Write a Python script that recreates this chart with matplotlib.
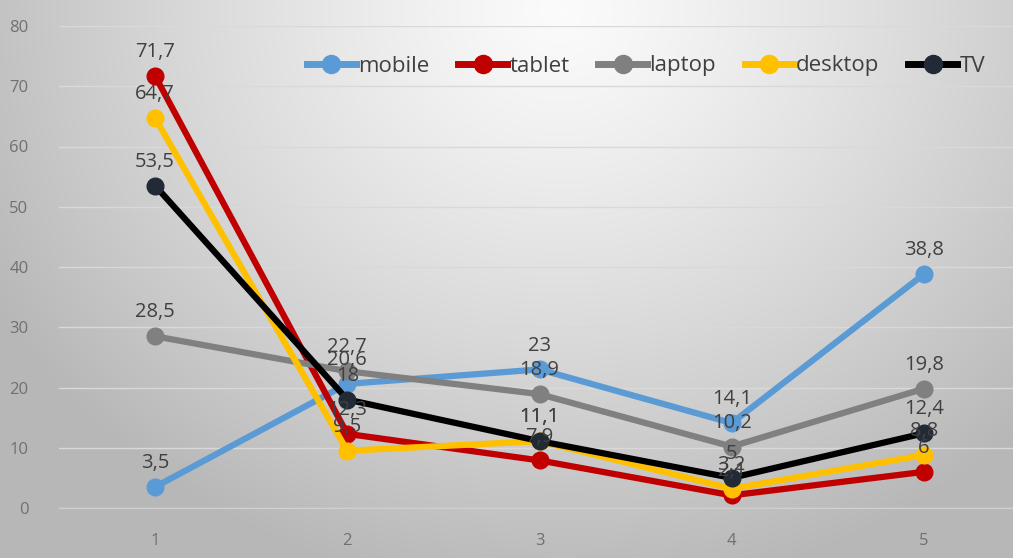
import matplotlib
matplotlib.use('Agg')
import numpy as np
import matplotlib.pyplot as plt
from matplotlib.lines import Line2D

categories = [1, 2, 3, 4, 5]
series_names = ['mobile', 'tablet', 'laptop', 'desktop', 'TV']
mobile = [3.5, 20.6, 23, 14.1, 38.8]
tablet = [71.7, 12.3, 7.9, 2.1, 6]
laptop = [28.5, 22.7, 18.9, 10.2, 19.8]
desktop = [64.7, 9.5, 11.1, 3.2, 8.8]
tv = [53.5, 18, 11.1, 5, 12.4]
y_ticks = [0, 10, 20, 30, 40, 50, 60, 70, 80]

series = [mobile, tablet, laptop, desktop, tv]
line_colors = ['#5B9BD5', '#C00000', '#808080', '#FFC000', '#000000']
marker_colors = ['#5B9BD5', '#C00000', '#808080', '#FFC000', '#222A35']

plt.rcParams['font.family'] = ['Open Sans', 'DejaVu Sans']

fig = plt.figure(figsize=(10.13, 5.58), dpi=100)

# radial grey background, brightest near the top middle
bg = fig.add_axes([0, 0, 1, 1], zorder=-10)
yy, xx = np.mgrid[0:558, 0:1013]
d = np.sqrt(((xx - 560) / 600.0) ** 2 + ((yy - 10) / 540.0) ** 2)
shade = np.clip(0.985 - 0.24 * d ** 1.2, 0.72, 1.0)
bg.imshow(np.dstack([shade, shade, shade]), aspect='auto', extent=[0, 1, 0, 1])
bg.axis('off')

ax = fig.add_axes([59 / 1013, 1 - 508 / 558, (1020 - 59) / 1013, (508 - 26) / 558])
ax.patch.set_alpha(0)

for name, vals, lc, mc in zip(series_names, series, line_colors, marker_colors):
    ax.plot(categories, vals, color=lc, lw=4.5, marker='o', ms=12,
            mfc=mc, mec=mc, solid_capstyle='round', label=name, zorder=3)

for vals in series:
    for x, v in zip(categories, vals):
        txt = ('%g' % v).replace('.', ',')
        ax.annotate(txt, (x, v), xytext=(0, 10), textcoords='offset points',
                    ha='center', va='bottom', fontsize=14.5, color='#404040', zorder=5)

ax.set_xlim(0.5, 5.5)
ax.set_ylim(0, 80)
ax.set_xticks(categories)
ax.set_yticks(y_ticks)
ax.tick_params(length=0, labelsize=12, colors='#707070')
ax.tick_params(axis='x', pad=18)
ax.tick_params(axis='y', pad=22)
ax.grid(axis='y', color='#d9d9d9', lw=1)
ax.set_axisbelow(True)
for s in ['top', 'right', 'left']:
    ax.spines[s].set_visible(False)
ax.spines['bottom'].set_color('#d0d0d0')

handles = [Line2D([0], [0], color=lc, lw=5, marker='o', ms=13, mfc=mc, mec=mc)
           for lc, mc in zip(line_colors, marker_colors)]
fig.legend(handles, series_names, loc='center left', bbox_to_anchor=(298 / 1013, 1 - 66 / 558),
           ncol=5, frameon=False, fontsize=16, labelcolor='#404040', handlelength=2.2,
           handletextpad=0.1, columnspacing=1.3, borderaxespad=0)

fig.savefig('out.png', dpi=100)
